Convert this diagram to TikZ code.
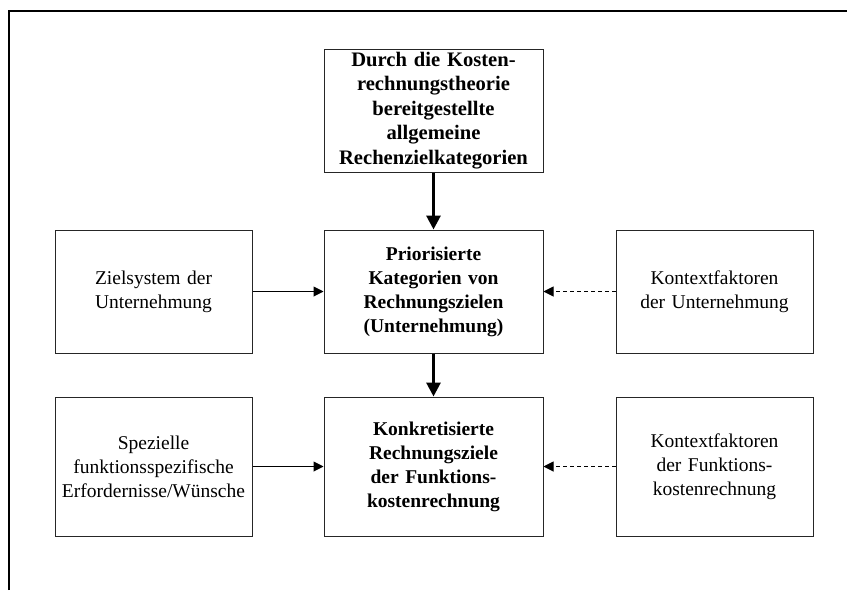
\documentclass[tikz,border=0pt]{standalone}
\usepackage{fontspec}
\setmainfont{Liberation Serif}
\usetikzlibrary{arrows.meta}
\begin{document}
\begin{tikzpicture}[x=1pt,y=-1pt,
  box/.style={draw=black!85, line width=1pt, align=center, inner sep=2pt,
    font=\fontsize{19.5}{24}\selectfont},
  wide/.style={box, minimum width=219pt, text width=214pt},
  side/.style={box, minimum width=197pt, text width=192pt},
  row1/.style={minimum height=123pt},
  row2/.style={minimum height=139pt},
  strong/.style={font=\fontsize{19.5}{24}\selectfont\bfseries},
  stronger/.style={font=\fontsize{20.6}{24.5}\selectfont\bfseries},
  mainflow/.style={line width=3pt, -{Triangle[length=14pt,width=14pt]}},
  feed/.style={line width=1pt, -{Triangle[length=10pt,width=10pt]}},
  context/.style={feed, dash pattern=on 4pt off 3pt}]
% page area
\useasboundingbox (0,0) rectangle (847,590);
% open frame (top and left edges)
\draw[line width=2.5pt] (9,590) -- (9,11) -- (847,11);

% centre column
\node[wide, row1, stronger] (theory) at (433.5,110.5)
  {Durch die Kosten-\\rechnungstheorie\\bereitgestellte\\allgemeine\\Rechenzielkategorien};
\node[wide, row1, strong] (prio) at (433.5,291.5)
  {Priorisierte\\Kategorien von\\Rechnungszielen\\(Unternehmung)};
\node[wide, row2, strong] (konkret) at (433.5,466.5)
  {Konkretisierte\\Rechnungsziele\\der Funktions-\\kostenrechnung};

% side boxes
\node[side, row1] (ziel) at (153.5,291.5) {Zielsystem der\\Unternehmung};
\node[side, row1] (kontextU) at (714.5,291.5) {Kontextfaktoren\\der Unternehmung};
\node[side, row2] (wuensche) at (153.5,466.5) {Spezielle\\funktionsspezifische\\Erfordernisse/Wünsche};
\node[side, row2] (kontextF) at (714.5,466.5) {Kontextfaktoren\\der Funktions-\\kostenrechnung};

% connectors
\draw[mainflow] (theory) -- (prio);
\draw[mainflow] (prio) -- (konkret);
\draw[feed] (ziel) -- (prio);
\draw[context] (kontextU) -- (prio);
\draw[feed] (wuensche) -- (konkret);
\draw[context] (kontextF) -- (konkret);
\end{tikzpicture}
\end{document}
